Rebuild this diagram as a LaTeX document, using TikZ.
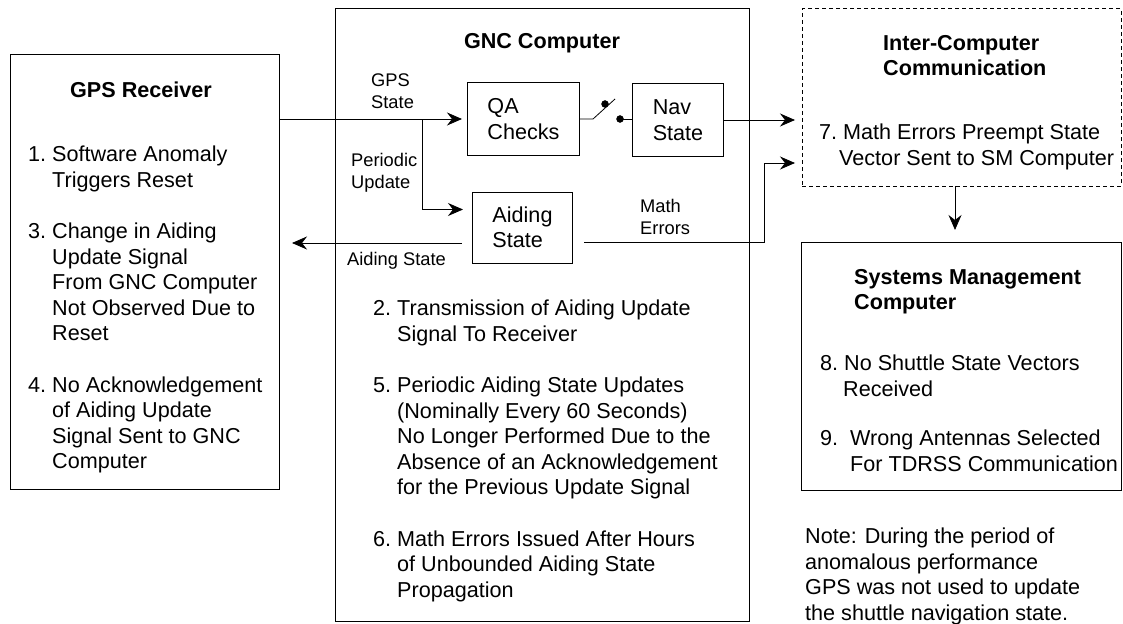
\documentclass[tikz,border=0pt]{standalone}
\usepackage{fontspec}
\setmainfont{Liberation Sans}
\usepackage{tikz}
\usetikzlibrary{arrows.meta}

\newcommand{\ind}[1][24pt]{\hspace*{#1}}

\begin{document}
\begin{tikzpicture}[x=1pt,y=-1pt,
  every node/.style={font=\fontsize{21.6}{25.5}\selectfont, inner sep=0pt},
  box/.style={draw, line width=1pt, outer sep=0pt, anchor=north west},
  blk/.style={draw, line width=1pt, align=left, inner xsep=20pt, minimum height=72pt},
  txt/.style={align=left, anchor=north west},
  head/.style={txt, font=\fontsize{21.6}{25.5}\selectfont\bfseries},
  lbl/.style={txt, font=\fontsize{18.3}{22}\selectfont},
  wire/.style={line width=0.8pt},
  sig/.style={wire, -{Stealth[length=15pt,width=13pt,inset=5pt]}, shorten >=5pt}]
\useasboundingbox (0,0) rectangle (1123,623);

% outer boxes
\node[box, minimum width=269pt, minimum height=434pt] (gps) at (10,55) {};
\node[box, minimum width=414pt, minimum height=612pt] (gnc) at (335,9) {};
\node[box, dashed, dash pattern=on 4pt off 3pt, minimum width=319pt, minimum height=177pt] (ic) at (802,9) {};
\node[box, minimum width=320pt, minimum height=248pt] (sm) at (801,242) {};

% GPS receiver
\node[head, anchor=center] (gpstitle) at (141,90) {GPS Receiver};
\node[txt] (gpsitems) at (28,146) {1.\ Software Anomaly\\ \ind Triggers Reset\\[26pt]
  3.\ Change in Aiding\\ \ind Update Signal\\ \ind From GNC Computer\\ \ind Not Observed Due to\\ \ind Reset\\[26pt]
  4.\ No Acknowledgement\\ \ind of Aiding Update\\ \ind Signal Sent to GNC\\ \ind Computer};

% GNC computer
\node[head, anchor=center] (gnctitle) at (542,43) {GNC Computer};
\node[blk, minimum width=111pt] (qa) at (523.5,119) {QA\\Checks};
\node[blk, minimum width=90pt] (nav) at (678,120) {Nav\\State};
\node[blk, minimum width=99pt, minimum height=71pt] (aid) at (522.5,227.5) {Aiding\\State};
\node[lbl] (gpsstate) at (371,74) {GPS\\State};
\node[lbl] (periodic) at (351,153) {Periodic\\Update};
\node[lbl] (aidlbl) at (347,252) {Aiding State};
\node[lbl] (mathlbl) at (640,199) {Math\\Errors};
\node[txt] (gncitems) at (373,300) {2.\ Transmission of Aiding Update\\ \ind Signal To Receiver\\[26pt]
  5.\ Periodic Aiding State Updates\\ \ind (Nominally Every 60 Seconds)\\ \ind No Longer Performed Due to the\\
  \ind Absence of an Acknowledgement\\ \ind for the Previous Update Signal\\[26pt]
  6.\ Math Errors Issued After Hours\\ \ind of Unbounded Aiding State\\ \ind Propagation};

% inter-computer communication
\node[head] (ictitle) at (883,35) {Inter-Computer\\Communication};
\node[txt] (icitems) at (819,124) {7.\ Math Errors Preempt State\\ \ind[20pt]Vector Sent to SM Computer};

% systems management computer
\node[head] (smtitle) at (854,269) {Systems Management\\Computer};
\node[txt] (smitems) at (820,355) {8.\ No Shuttle State Vectors\\ \ind[23pt]Received\\[24pt]
  9.\ \ Wrong Antennas Selected\\ \ind[30pt]For TDRSS Communication};

\node[txt] (note) at (805,528) {Note: During the period of\\anomalous performance\\GPS was not used to update\\the shuttle navigation state.};

% signals
\draw[sig] (gps.east |- qa.west) -- (qa.west);
\coordinate (branch) at (422,119);
\draw[sig, shorten >=9pt] (branch) |- ([yshift=18pt]aid.west);
\draw[sig, shorten <=10pt, shorten >=13pt] ([yshift=-15.5pt]aid.west) -- ([yshift=-15.5pt]aid.west -| gps.east);
\draw[sig, shorten <=11pt, shorten >=7pt] ([yshift=-14.5pt]aid.east) -- ++(191,0) |- ([yshift=-154pt]ic.north west);
\draw[sig, shorten >=7pt] (nav.east) -- (nav.east -| ic.west);
\draw[sig, shorten >=12pt] ([xshift=-6.5pt]ic.south) -- ([xshift=-6.5pt]ic.south |- sm.north);

% switch
\draw[wire] (qa.east) -- ++(13,0) -- ++(22,-20);
\filldraw (605,104) circle (3.5pt);
\filldraw (620,119) circle (3.5pt) coordinate (contact);
\draw[wire] (contact) -- (contact -| nav.west);
\end{tikzpicture}
\end{document}
